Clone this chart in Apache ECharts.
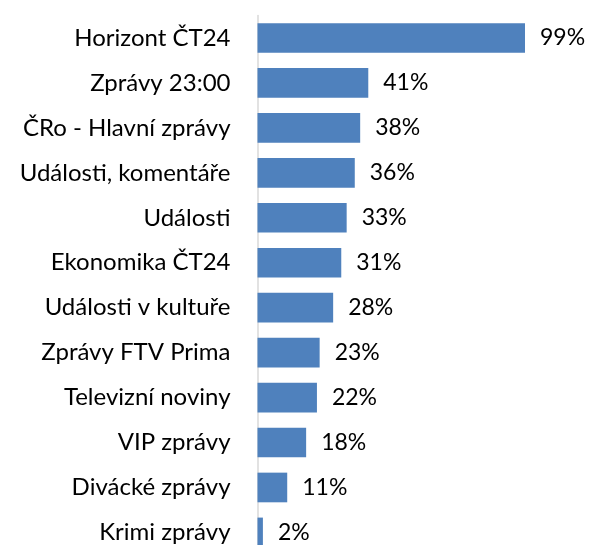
<!DOCTYPE html>
<html>
<head>
<meta charset="utf-8">
<script src="https://cdn.jsdelivr.net/npm/echarts@6/dist/echarts.min.js"></script>
<style>
html,body{margin:0;padding:0;background:#fff;}
#c{width:589px;height:545px;}
</style>
</head>
<body>
<div id="c"></div>
<script>
const categories = ["Horizont ČT24","Zprávy 23:00","ČRo - Hlavní zprávy","Události, komentáře","Události","Ekonomika ČT24","Události v kultuře","Zprávy FTV Prima","Televizní noviny","VIP zprávy","Divácké zprávy","Krimi zprávy"];
const values = [99,41,38,36,33,31,28,23,22,18,11,2];

const chart = echarts.init(document.getElementById('c'), null, {renderer:'canvas'});
chart.setOption({
  animation:false,
  grid:{left:257.5, top:15.5, width:270.2, height:539.4, containLabel:false, outerBoundsMode:'none'},
  xAxis:{type:'value', min:0, max:100, show:false},
  yAxis:{
    type:'category', data:categories, inverse:true,
    axisLine:{show:true, lineStyle:{color:'#d9d9d9', width:1.5}},
    axisTick:{show:false},
    axisLabel:{color:'#000', fontFamily:'Lato', fontSize:24, margin:27}
  },
  series:[{
    type:'bar', data:values, barCategoryGap:'34%',
    itemStyle:{color:'#4F81BD'},
    label:{show:true, position:'right', distance:15, color:'#000', fontFamily:'Lato', fontSize:23, formatter:'{c}%'}
  }]
});
</script>
</body>
</html>
